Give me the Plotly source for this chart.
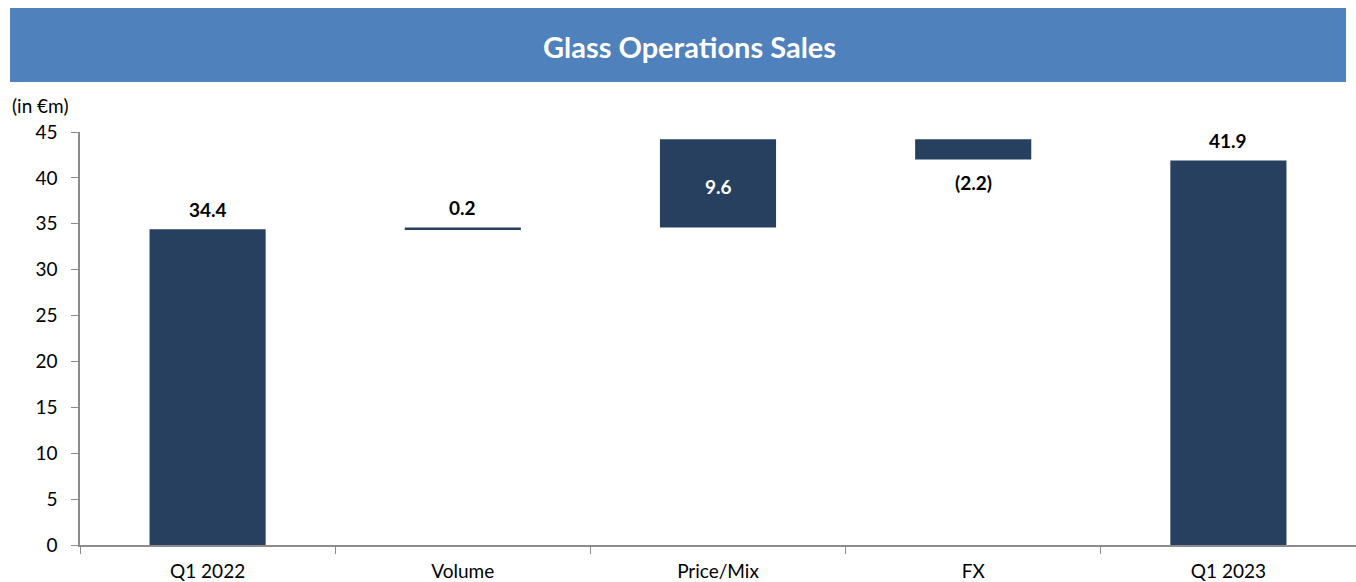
import plotly.graph_objects as go

categories = ["Q1 2022", "Volume", "Price/Mix", "FX", "Q1 2023"]
values = [34.4, 0.2, 9.6, -2.2, 41.9]
measures = ["absolute", "relative", "relative", "relative", "absolute"]
labels = ["34.4", "0.2", "9.6", "(2.2)", "41.9"]
label_inside = [False, False, True, False, False]

bar_color = "#27405F"
FONT = "Lato, Carlito, 'Open Sans', sans-serif"
FS = 19

fig = go.Figure(go.Waterfall(
    x=categories,
    y=values,
    measure=measures,
    textposition="none",
    increasing=dict(marker=dict(color=bar_color)),
    decreasing=dict(marker=dict(color=bar_color)),
    totals=dict(marker=dict(color=bar_color)),
    connector=dict(visible=False),
    hoverinfo="skip",
))

# data labels positioned from the running totals of the data
annotations = []
running = 0.0
for cat, val, meas, lab, inside in zip(categories, values, measures, labels, label_inside):
    if meas == "absolute":
        start, end = 0.0, val
    else:
        start, end = running, running + val
    running = end
    if inside:
        annotations.append(dict(x=cat, y=(start + end) / 2, xref="x", yref="y",
                                text=f"<b>{lab}</b>", showarrow=False,
                                font=dict(family=FONT, size=FS, color="white"),
                                yshift=-3))
    elif end >= start:
        annotations.append(dict(x=cat, y=end, xref="x", yref="y",
                                text=f"<b>{lab}</b>", showarrow=False,
                                font=dict(family=FONT, size=FS, color="black"),
                                yshift=20))
    else:
        annotations.append(dict(x=cat, y=end, xref="x", yref="y",
                                text=f"<b>{lab}</b>", showarrow=False,
                                font=dict(family=FONT, size=FS, color="black"),
                                yshift=-23))

W, H = 1356, 582
ml, mr, mt, mb = 80, 0, 132, 37
pw = W - ml - mr
ph = H - mt - mb

def px_x(x):
    return (x - ml) / pw

def px_y(y):
    return (H - mb - y) / ph

annotations += [
    dict(text="<b>Glass Operations Sales</b>", xref="paper", yref="paper",
         x=px_x(689), y=px_y(46), xanchor="center", yanchor="middle",
         showarrow=False, font=dict(family=FONT, size=29, color="white")),
    dict(text="(in €m)", xref="paper", yref="paper",
         x=px_x(10), y=px_y(105), xanchor="left", yanchor="middle",
         showarrow=False, font=dict(family=FONT, size=FS, color="#000000")),
]

fig.update_layout(
    width=W, height=H,
    margin=dict(l=ml, r=mr, t=mt, b=mb),
    paper_bgcolor="white",
    plot_bgcolor="white",
    showlegend=False,
    waterfallgap=0.545,
    font=dict(family=FONT, size=FS, color="#000000"),
    xaxis=dict(
        showline=True, linecolor="#8C8C8C", linewidth=1.5,
        ticks="outside", tickson="boundaries", ticklen=7, tickcolor="#8C8C8C",
        showgrid=False, tickfont=dict(size=FS, family=FONT),
        ticklabelstandoff=8,
    ),
    yaxis=dict(
        range=[0, 45], dtick=5, showgrid=False, zeroline=False,
        showline=True, linecolor="#8C8C8C", linewidth=1.5,
        ticks="outside", ticklen=7, tickcolor="#8C8C8C",
        tickfont=dict(size=FS, family=FONT),
        ticklabelstandoff=10,
    ),
    shapes=[dict(
        type="rect", xref="paper", yref="paper",
        x0=px_x(10), x1=px_x(1346), y0=px_y(82), y1=px_y(8),
        fillcolor="#4F81BD", line=dict(width=0), layer="below",
    )],
    annotations=annotations,
)

fig.write_html("out.html", config={"displayModeBar": False},
               post_script="document.body.style.margin='0';")
